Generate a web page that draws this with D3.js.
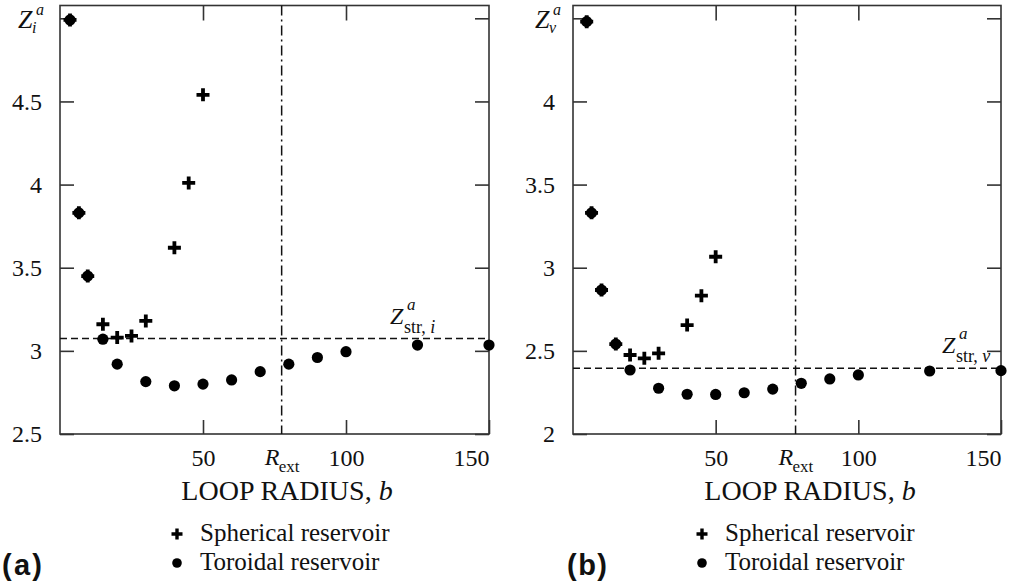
<!DOCTYPE html>
<html>
<head>
<meta charset="utf-8">
<script src="https://cdn.jsdelivr.net/npm/d3@7"></script>
<style>
  body { margin: 0; background: #fff; }
  svg { display: block; }
  text { font-family: 'Liberation Serif', 'Times New Roman', serif; fill: #111; }
</style>
</head>
<body>
<div id="chart"></div>
<script>
// values
const xTicks = [50, 100, 150]
const topTicks = [50, 100]

const yTicksA = [2.5, 3, 3.5, 4, 4.5, 5]
const torB_A = [3.5, 6.6, 9.7, 15, 20, 30, 40, 50, 60, 70, 80, 90, 100, 125, 150]
const torZ_A = [4.99, 3.83, 3.45, 3.07, 2.92, 2.815, 2.79, 2.8, 2.825, 2.875, 2.92, 2.96, 2.995, 3.035, 3.035]
const sphB_A = [3.5, 6.6, 9.7, 15, 20, 25, 30, 40, 45, 50]
const sphZ_A = [4.99, 3.83, 3.45, 3.16, 3.08, 3.09, 3.18, 3.62, 4.01, 4.54]
const zStrA = 3.074
const rExtA = 77.5

const yTicksB = [2, 2.5, 3, 3.5, 4, 4.5]
const torB_B = [4.8, 6.5, 10, 15, 20, 30, 40, 50, 60, 70, 80, 90, 100, 125, 150]
const torZ_B = [4.48, 3.33, 2.866, 2.541, 2.385, 2.275, 2.239, 2.238, 2.248, 2.27, 2.305, 2.331, 2.355, 2.379, 2.381]
const sphB_B = [4.8, 6.5, 10, 15, 20, 25, 30, 40, 45, 50]
const sphZ_B = [4.48, 3.33, 2.866, 2.541, 2.475, 2.455, 2.485, 2.655, 2.832, 3.066]
const zStrB = 2.396
const rExtB = 78

const legendLabels = ['Spherical reservoir', 'Toroidal reservoir']

const W = 1019, H = 583
const serif = "'Liberation Serif', 'Times New Roman', serif"
const svg = d3.select('#chart').append('svg')
  .attr('width', W)
  .attr('height', H)

const plusPath = s => 'M' + (-s) + ',0H' + s + 'M0,' + (-s) + 'V' + s

const panels = [
  {
    x0: 60, x1: 489, yDomain: [2.5, 5.077], yTicks: yTicksA,
    tor: torB_A.map((b, i) => ({ b: b, z: torZ_A[i] })),
    sph: sphB_A.map((b, i) => ({ b: b, z: sphZ_A[i] })),
    zStr: zStrA, rExt: rExtA,
    yLab: { x: 18, sub: 'i' }, strSub: 'str, ', strSubIt: 'i', strX: 390,
    loopX: 287, legX: 177, panelLab: '(a)', panelX: 2
  },
  {
    x0: 573, x1: 1001, yDomain: [2, 4.577], yTicks: yTicksB,
    tor: torB_B.map((b, i) => ({ b: b, z: torZ_B[i] })),
    sph: sphB_B.map((b, i) => ({ b: b, z: sphZ_B[i] })),
    zStr: zStrB, rExt: rExtB,
    yLab: { x: 535, sub: 'v' }, strSub: 'str, ', strSubIt: 'v', strX: 942,
    loopX: 810, legX: 702, panelLab: '(b)', panelX: 567
  }
]

panels.forEach(p => {
  const x = d3.scaleLinear().domain([0, 150]).range([p.x0, p.x1])
  const y = d3.scaleLinear().domain(p.yDomain).range([434, 5.5])
  const g = svg.append('g')
  const top = y.range()[1], bottom = y.range()[0]
  const yMaxTick = p.yTicks[p.yTicks.length - 1]

  // left axis with labels
  g.append('g')
    .attr('class', 'ax')
    .attr('transform', 'translate(' + p.x0 + ',0)')
    .call(d3.axisLeft(y).tickValues(p.yTicks).tickSize(-14).tickPadding(18)
      .tickFormat(d => d === yMaxTick ? '' : d3.format('~g')(d)))
  // right axis
  g.append('g')
    .attr('transform', 'translate(' + p.x1 + ',0)')
    .call(d3.axisRight(y).tickValues(p.yTicks).tickSize(-14).tickFormat(''))
  // bottom axis
  const axB = g.append('g')
    .attr('class', 'ax')
    .attr('transform', 'translate(0,' + bottom + ')')
    .call(d3.axisBottom(x).tickValues(xTicks).tickSize(-14).tickPadding(15))
  axB.selectAll('.tick text').filter(d => d === 150).attr('text-anchor', 'end')
  // top axis
  g.append('g')
    .attr('transform', 'translate(0,' + top + ')')
    .call(d3.axisTop(x).tickValues(topTicks).tickSize(-15).tickFormat(''))

  g.selectAll('.domain').remove()
  g.selectAll('.tick line').attr('stroke', '#333').attr('stroke-width', 1.6)
  g.selectAll('.ax').attr('font-family', serif).attr('font-size', 24)
  g.selectAll('.tick text')
    .style('font-family', serif)
    .style('font-size', '24px')
    .attr('fill', '#111')

  // frame
  g.append('rect')
    .attr('x', p.x0).attr('y', top)
    .attr('width', p.x1 - p.x0).attr('height', bottom - top)
    .attr('fill', 'none').attr('stroke', '#333').attr('stroke-width', 1.6)

  // straight-wire reference level
  g.append('line')
    .attr('x1', p.x0).attr('x2', p.x1)
    .attr('y1', y(p.zStr)).attr('y2', y(p.zStr))
    .attr('stroke', '#111').attr('stroke-width', 1.5)
    .attr('stroke-dasharray', '7,4')

  // R_ext line
  g.append('line')
    .attr('x1', x(p.rExt)).attr('x2', x(p.rExt))
    .attr('y1', top).attr('y2', bottom)
    .attr('stroke', '#111').attr('stroke-width', 1.5)
    .attr('stroke-dasharray', '10,4,2,4')

  // R_ext tick label
  const rx = x(p.rExt)
  g.append('text').attr('x', rx - 17).attr('y', 465)
    .style('font-size', '24px').style('font-style', 'italic').text('R')
  g.append('text').attr('x', rx - 3).attr('y', 472)
    .style('font-size', '17px').text('ext')

  // y label Z^a
  g.append('text').attr('x', p.yLab.x).attr('y', 28)
    .style('font-size', '26px').style('font-style', 'italic').text('Z')
  g.append('text').attr('x', p.yLab.x + 18).attr('y', 15)
    .style('font-size', '16px').style('font-style', 'italic').text('a')
  g.append('text').attr('x', p.yLab.x + 14).attr('y', 33)
    .style('font-size', '16px').style('font-style', 'italic').text(p.yLab.sub)

  // Z^a_str annotation
  const ys = y(p.zStr)
  g.append('text').attr('x', p.strX).attr('y', ys - 15)
    .style('font-size', '24px').style('font-style', 'italic').text('Z')
  g.append('text').attr('x', p.strX + 17).attr('y', ys - 29)
    .style('font-size', '17px').style('font-style', 'italic').text('a')
  const st = g.append('text').attr('x', p.strX + 14).attr('y', ys - 6)
    .style('font-size', '18px')
  st.append('tspan').text(p.strSub)
  st.append('tspan').style('font-style', 'italic').text(p.strSubIt)

  // toroidal points
  g.append('g').selectAll('circle')
    .data(p.tor)
    .join('circle')
    .attr('cx', d => x(d.b))
    .attr('cy', d => y(d.z))
    .attr('r', 5.6)
    .attr('fill', '#000')

  // spherical points
  g.append('g').selectAll('path')
    .data(p.sph)
    .join('path')
    .attr('transform', d => 'translate(' + x(d.b) + ',' + y(d.z) + ')')
    .attr('d', plusPath(6.5))
    .attr('stroke', '#000')
    .attr('stroke-width', 3.8)
    .attr('fill', 'none')

  // x title
  const xt = g.append('text').attr('x', p.loopX).attr('y', 500)
    .attr('text-anchor', 'middle').style('font-size', '28px')
  xt.append('tspan').text('LOOP RADIUS, ')
  xt.append('tspan').style('font-style', 'italic').text('b')

  // legend
  g.append('path')
    .attr('transform', 'translate(' + p.legX + ',534)')
    .attr('d', plusPath(5.5))
    .attr('stroke', '#000').attr('stroke-width', 3.4)
  g.append('circle')
    .attr('cx', p.legX).attr('cy', 563).attr('r', 4.8).attr('fill', '#000')
  g.selectAll('.leg')
    .data(legendLabels)
    .join('text')
    .attr('class', 'leg')
    .attr('x', p.legX + 23)
    .attr('y', (d, i) => 541 + i * 29)
    .style('font-size', '25px')
    .text(d => d)

  // panel label
  g.append('text').attr('x', p.panelX).attr('y', 575)
    .style('font-family', "'Liberation Sans', Arial, sans-serif")
    .style('font-weight', 'bold').style('font-size', '29px')
    .attr('textLength', 40)
    .text(p.panelLab)
})
</script>
</body>
</html>
